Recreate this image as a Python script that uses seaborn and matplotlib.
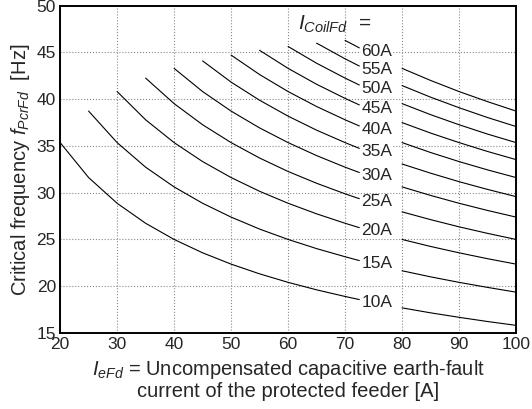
import seaborn as sns
import matplotlib.pyplot as plt
import pandas as pd

# x values (I_eFd, A) where the curves were read
i_efd = [20, 25, 30, 35, 40, 45, 50, 55, 60, 65, 70, 72.5, 80, 85, 90, 95, 100]

# critical frequency [Hz] (None = curve not drawn there)
f_10A = [35.36, 31.62, 28.87, 26.73, 25.00, 23.57, 22.36, 21.32, 20.41, 19.61, 18.90, 18.57, 17.68, 17.15, 16.67, 16.22, 15.81]
f_15A = [None, 38.73, 35.36, 32.73, 30.62, 28.87, 27.39, 26.11, 25.00, 24.02, 23.15, 22.74, 21.65, 21.00, 20.41, 19.87, 19.36]
f_20A = [None, None, 40.82, 37.80, 35.36, 33.33, 31.62, 30.15, 28.87, 27.74, 26.73, 26.26, 25.00, 24.25, 23.57, 22.94, 22.36]
f_25A = [None, None, None, 42.26, 39.53, 37.27, 35.36, 33.71, 32.27, 31.01, 29.88, 29.36, 27.95, 27.12, 26.35, 25.65, 25.00]
f_30A = [None, None, None, None, 43.30, 40.82, 38.73, 36.93, 35.36, 33.97, 32.73, 32.16, 30.62, 29.71, 28.87, 28.10, 27.39]
f_35A = [None, None, None, None, None, 44.10, 41.83, 39.89, 38.19, 36.69, 35.36, 34.74, 33.07, 32.09, 31.18, 30.35, 29.58]
f_40A = [None, None, None, None, None, None, 44.72, 42.64, 40.82, 39.22, 37.80, 37.14, 35.36, 34.30, 33.33, 32.44, 31.62]
f_45A = [None, None, None, None, None, None, None, 45.23, 43.30, 41.60, 40.09, 39.39, 37.50, 36.38, 35.36, 34.41, 33.54]
f_50A = [None, None, None, None, None, None, None, None, 45.64, 43.85, 42.26, 41.52, 39.53, 38.35, 37.27, 36.27, 35.36]
f_55A = [None, None, None, None, None, None, None, None, None, 46.00, 44.32, 43.55, 41.46, 40.22, 39.09, 38.04, 37.08]
f_60A = [None, None, None, None, None, None, None, None, None, None, 46.29, 45.49, 43.30, 42.01, 40.82, 39.74, 38.73]

coil_labels = ["10A", "15A", "20A", "25A", "30A", "35A", "40A", "45A", "50A", "55A", "60A"]
curves = [f_10A, f_15A, f_20A, f_25A, f_30A, f_35A, f_40A, f_45A, f_50A, f_55A, f_60A]

rows = []
for lab, fs in zip(coil_labels, curves):
    for x, f in zip(i_efd, fs):
        if f is None:
            continue
        seg = "a" if x <= 72.5 else "b"
        rows.append({"coil": lab, "unit": lab + seg, "x": x, "f": f})
df = pd.DataFrame(rows)

sns.set_style("white")
plt.rcParams["font.family"] = ["Liberation Sans", "DejaVu Sans"]
plt.rcParams["mathtext.fontset"] = "custom"
plt.rcParams["mathtext.rm"] = "Liberation Sans"
plt.rcParams["mathtext.it"] = "Liberation Sans:italic"

fig = plt.figure(figsize=(5.32, 4.09), dpi=100)
ax = fig.add_axes([0.113, 0.186, 0.857, 0.80])

sns.lineplot(data=df, x="x", y="f", units="unit", estimator=None,
             color="black", linewidth=0.8, ax=ax, legend=False)

# curve labels, placed just past the left segment's end
for lab, fs in zip(coil_labels, curves):
    y_end = fs[i_efd.index(72.5)]
    ax.text(75.6, y_end - 0.35, lab, ha="center", va="center", fontsize=12.5,
            bbox=dict(facecolor="white", edgecolor="none", pad=0.3))
ax.text(61.8, 48.0, r"$I_{CoilFd}$  =", ha="left", va="center", fontsize=15)

ax.set_xlim(20, 100)
ax.set_ylim(15, 50)
ax.set_xticks(range(20, 101, 10))
ax.set_yticks(range(15, 51, 5))
ax.grid(True, color="#888888", linestyle=":", linewidth=0.8)
ax.tick_params(length=0, labelsize=12.5, pad=3)
for s in ax.spines.values():
    s.set_color("black")
    s.set_linewidth(1.4)

ax.set_xlabel(r"$I_{eFd}$ = Uncompensated capacitive earth-fault" + "\ncurrent of the protected feeder [A]",
              fontsize=14.5, linespacing=1.1, labelpad=4)
ax.set_ylabel(r"Critical frequency $f_{PcrFd}$  [Hz]", fontsize=14.5, labelpad=3)

fig.savefig("out.png", dpi=100)
